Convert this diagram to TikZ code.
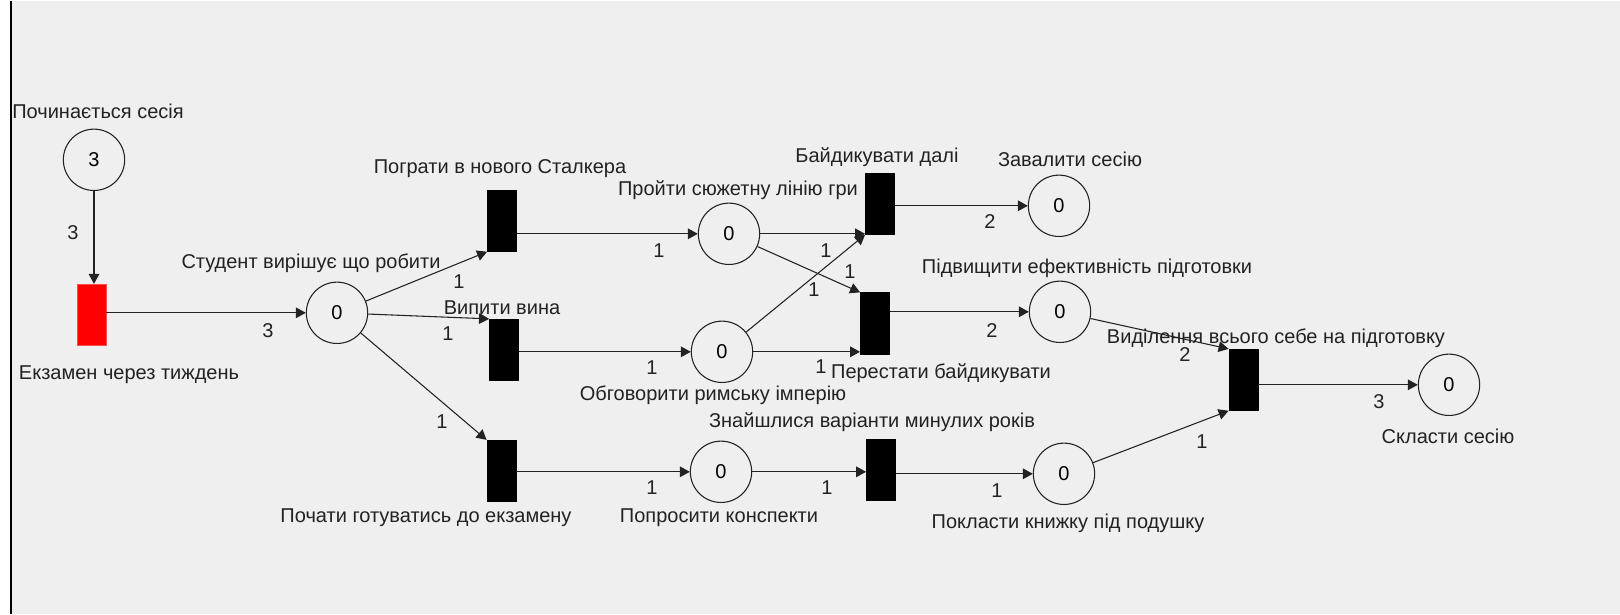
\documentclass[tikz,border=0pt]{standalone}
\usepackage{fontspec}
\setmainfont{Liberation Sans}
\usepackage{xcolor}
\usepackage{tikz}
\usetikzlibrary{arrows.meta, positioning, calc}

\definecolor{canvas}{HTML}{EFEFEF}
\definecolor{ink}{HTML}{222222}

\begin{document}
\begin{tikzpicture}[x=7.5pt, y=-7.5pt, font=\fontsize{15}{18}\selectfont,
    place/.style={circle, draw=ink, line width=0.8pt, minimum size=46pt, inner sep=0pt},
    trans/.style={rectangle, draw=black, fill=black, minimum width=22pt, minimum height=46pt, inner sep=0pt},
    txt/.style={text height=0.9em, text depth=0pt, inner sep=0pt, text=ink},
    wt/.style={text height=0.9em, text depth=0pt, inner sep=0pt, text=ink},
    arc/.style={-{Triangle[length=7.5pt, width=8pt]}, line width=0.8pt, draw=ink}]

          % canvas
          \fill[white] (0,0) rectangle (162,61.3);
          \fill[canvas] (1.07,0) rectangle (162,61.3);
          \draw[line width=1.2pt] (1.07,0) -- (1.07,61.3);
          \useasboundingbox (0,0) rectangle (162,61.3);

          % places
          \node[place] (start) at (9.4,15.9) {3};
          \node[place] (student) at (33.7,31.2) {0};
          \node[place] (game) at (72.9,23.3) {0};
          \node[place] (rome) at (72.2,35.1) {0};
          \node[place] (notes) at (72.1,47.1) {0};
          \node[place] (fail) at (105.9,20.5) {0};
          \node[place] (boost) at (106.0,31.1) {0};
          \node[place] (book) at (106.4,47.3) {0};
          \node[place] (pass) at (144.9,38.4) {0};

          % transitions
          \node[trans, fill=red, draw=red!70] (exam) at (9.15,31.4) {};
          \node[trans] (play) at (50.2,22.0) {};
          \node[trans] (wine) at (50.4,34.9) {};
          \node[trans] (prep) at (50.15,47.0) {};
          \node[trans] (idle) at (88.0,20.3) {};
          \node[trans] (stop) at (87.5,32.25) {};
          \node[trans] (found) at (88.1,46.9) {};
          \node[trans] (all) at (124.35,37.9) {};

          % names
          \node[txt] (startname) at (9.8,11.2) {Починається сесія};
          \node[txt] (examname) at (12.9,37.3) {Екзамен через тиждень};
          \node[txt] (studentname) at (31.1,26.2) {Студент вирішує що робити};
          \node[txt] (playname) at (50.0,16.7) {Пограти в нового Сталкера};
          \node[txt] (winename) at (50.2,30.8) {Випити вина};
          \node[txt] (prepname) at (42.6,51.6) {Почати готуватись до екзамену};
          \node[txt] (gamename) at (73.8,18.85) {Пройти сюжетну лінію гри};
          \node[txt] (romename) at (71.3,39.35) {Обговорити римську імперію};
          \node[txt] (notesname) at (71.9,51.6) {Попросити конспекти};
          \node[txt] (idlename) at (87.7,15.6) {Байдикувати далі};
          \node[txt] (stopname) at (94.1,37.2) {Перестати байдикувати};
          \node[txt] (foundname) at (87.2,42.1) {Знайшлися варіанти минулих років};
          \node[txt] (failname) at (107.0,15.95) {Завалити сесію};
          \node[txt] (boostname) at (108.7,26.7) {Підвищити ефективність підготовки};
          \node[txt] (bookname) at (106.8,52.2) {Покласти книжку під подушку};
          \node[txt] (allname) at (127.6,33.7) {Виділення всього себе на підготовку};
          \node[txt] (passname) at (144.8,43.7) {Скласти сесію};

          % arcs
          \draw[arc] (start) -- (start |- exam.north);
          \draw[arc] (exam.east |- student) -- (student);
          \draw[arc] (student) -- (play.south west);
          \draw[arc] (student) -- (wine.north west);
          \draw[arc] (student) -- (prep.north west);
          \draw[arc] (play.east |- game) -- (game);
          \draw[arc] (wine.east |- rome) -- (rome);
          \draw[arc] (prep.east |- notes) -- (notes);
          \draw[arc] (game) -- (idle.west |- game);
          \draw[arc] (rome) -- (idle.south west);
          \draw[arc] (game) -- (stop.north west);
          \draw[arc] (rome) -- (stop.west |- rome);
          \draw[arc] (notes) -- (found.west |- notes);
          \draw[arc] (idle.east |- fail) -- (fail);
          \draw[arc] (stop.east |- boost) -- (boost);
          \draw[arc] (found.east |- book) -- (book);
          \draw[arc] (boost) -- (all.north west);
          \draw[arc] (book) -- (all.south west);
          \draw[arc] (all.east |- pass) -- (pass);

          % weights
          \node[wt] (w1) at (7.3,23.3) {3};
          \node[wt] (w2) at (26.8,33.1) {3};
          \node[wt] (w3) at (45.9,28.2) {1};
          \node[wt] (w4) at (44.8,33.4) {1};
          \node[wt] (w5) at (44.2,42.2) {1};
          \node[wt] (w6) at (65.9,25.1) {1};
          \node[wt] (w7) at (65.2,36.8) {1};
          \node[wt] (w8) at (65.2,48.8) {1};
          \node[wt] (w9) at (82.6,25.1) {1};
          \node[wt] (w10) at (85.0,27.2) {1};
          \node[wt] (w11) at (81.4,29.0) {1};
          \node[wt] (w12) at (82.1,36.7) {1};
          \node[wt] (w13) at (82.7,48.8) {1};
          \node[wt] (w14) at (99.0,22.2) {2};
          \node[wt] (w15) at (99.2,33.1) {2};
          \node[wt] (w16) at (99.7,49.1) {1};
          \node[wt] (w17) at (118.5,35.5) {2};
          \node[wt] (w18) at (120.2,44.2) {1};
          \node[wt] (w19) at (137.9,40.2) {3};
        \end{tikzpicture}
\end{document}
